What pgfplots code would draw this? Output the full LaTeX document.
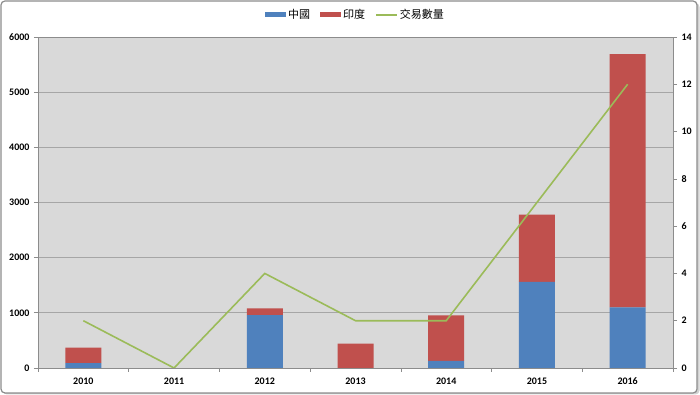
\documentclass[border=0pt]{standalone}
\usepackage{pgfplots}
\pgfplotsset{compat=1.18}
\usepackage{fontspec}
\setmainfont{Carlito}
\newfontfamily\cjk{Noto Sans CJK TC}
\definecolor{cnblue}{HTML}{4F81BD}
\definecolor{inred}{HTML}{C0504D}
\definecolor{lngreen}{HTML}{9BBB59}
\definecolor{bggray}{HTML}{D9D9D9}
\definecolor{gridgray}{HTML}{A6A6A6}
\definecolor{axgray}{HTML}{8C8C8C}
\begin{document}
\begin{tikzpicture}
\fill[white] (-38pt,-27pt) rectangle (662pt,368pt);
\fill[gray!35, rounded corners=4pt] (-35pt,-26.5pt) rectangle (661.5pt,365pt);
\fill[white, rounded corners=4pt] (-37pt,-25pt) rectangle (659pt,367pt);
\draw[axgray, line width=1.2pt, rounded corners=4pt] (-37pt,-25pt) rectangle (659pt,367pt);
\begin{axis}[
  scale only axis,
  width=635pt, height=331pt,
  xmin=-0.5, xmax=6.5, ymin=0, ymax=6000,
  ybar stacked, bar width=36pt,
  xtick={-0.5,0.5,1.5,2.5,3.5,4.5,5.5,6.5},
  xticklabels={2010,2011,2012,2013,2014,2015,2016},
  x tick label as interval,
  ytick={0,1000,...,6000},
  xtick pos=lower, ytick pos=left,
  tick align=outside, major tick length=4pt,
  ymajorgrids, grid style={gridgray, line width=0.7pt},
  axis line style={axgray, line width=0.7pt},
  tick style={axgray, line width=0.7pt},
  axis background/.style={fill=bggray},
  /pgf/number format/assume math mode=true,
  /pgf/number format/1000 sep={},
  ticklabel style={font=\bfseries\fontsize{10}{12}\selectfont, text=black},
  yticklabel style={xshift=-1pt},
  xticklabel style={yshift=-2pt},
  legend columns=3,
  legend style={draw=none, fill=none, at={(0.5,1)}, anchor=center, yshift=22pt,
    font=\cjk\fontsize{11}{12}\selectfont,
    /tikz/every even column/.append style={column sep=8pt}},
]
\addplot[fill=cnblue, draw=none,
  legend image code/.code={\fill[cnblue] (0pt,-2.5pt) rectangle (21pt,2.5pt);}]
  coordinates {(0,90) (1,0) (2,960) (3,0) (4,130) (5,1560) (6,1100)};
\addlegendentry{中國}
\addplot[fill=inred, draw=none,
  legend image code/.code={\fill[inred] (0pt,-2.5pt) rectangle (21pt,2.5pt);}]
  coordinates {(0,280) (1,0) (2,120) (3,440) (4,825) (5,1220) (6,4590)};
\addlegendentry{印度}
\addlegendimage{legend image code/.code={\draw[lngreen, line width=1.6pt] (0pt,0pt) -- (21pt,0pt);}}
\addlegendentry{交易數量}
\end{axis}
\begin{axis}[
  scale only axis,
  width=635pt, height=331pt,
  xmin=-0.5, xmax=6.5, ymin=0, ymax=14,
  axis x line=none, axis y line*=right,
  ytick={0,2,...,14},
  tick align=outside, major tick length=4pt,
  axis line style={axgray, line width=0.7pt},
  tick style={axgray, line width=0.7pt},
  /pgf/number format/assume math mode=true,
  ticklabel style={font=\bfseries\fontsize{10}{12}\selectfont, text=black},
  yticklabel style={xshift=1pt},
]
\addplot[lngreen, line width=1.6pt, no marks]
  coordinates {(0,2) (1,0) (2,4) (3,2) (4,2) (5,7) (6,12)};
\end{axis}
\end{tikzpicture}
\end{document}
